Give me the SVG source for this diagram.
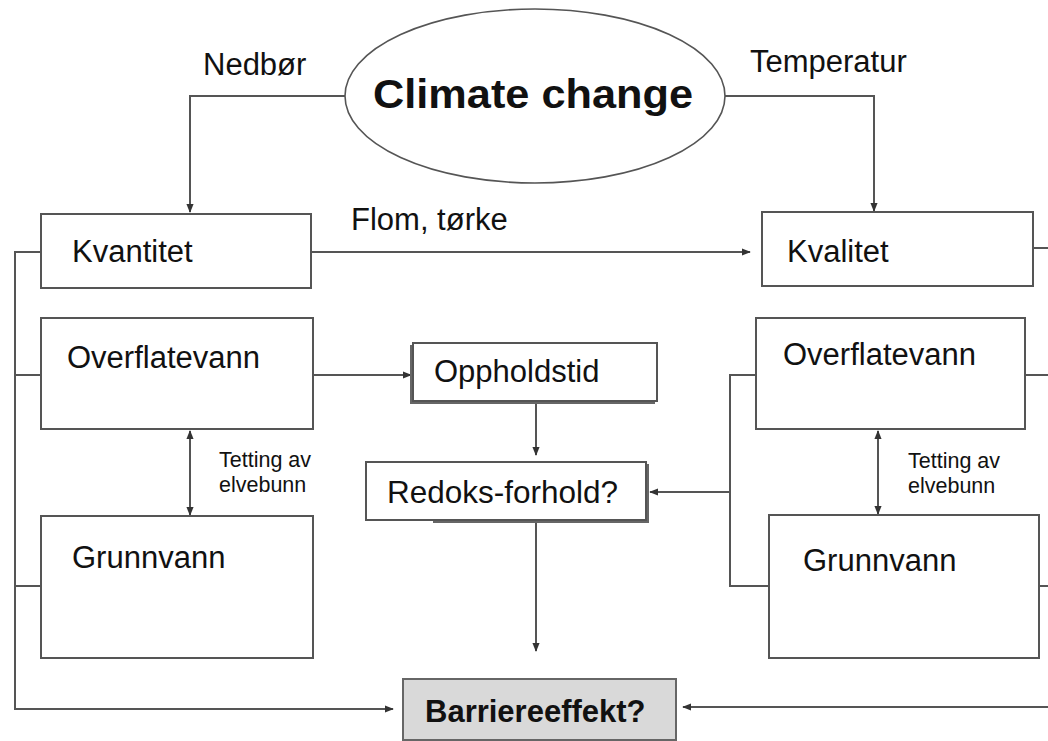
<svg xmlns="http://www.w3.org/2000/svg" width="1048" height="741" viewBox="0 0 1048 741">
<defs>
<marker id="ah" viewBox="0 0 10 10" refX="9" refY="5" markerWidth="9" markerHeight="9" markerUnits="userSpaceOnUse" orient="auto-start-reverse">
<path d="M0,1 L10,5 L0,9 z" fill="#333"/>
</marker>
<style>
.box{fill:#fff;stroke:#555;stroke-width:2}
.shadow{fill:none;stroke:#666;stroke-width:2}
.ln{fill:none;stroke:#555;stroke-width:2}
.t{font-family:"Liberation Sans",Arial,sans-serif;fill:#111}
.big{font-size:31px}
.small{font-size:21.5px}
</style>
</defs>
<rect width="1048" height="741" fill="#fff"/>

<g id="connectors">
<!-- Nedbør -->
<path class="ln" d="M345,96 H190 V212" marker-end="url(#ah)"/>
<!-- Temperatur -->
<path class="ln" d="M725,96 H874 V211" marker-end="url(#ah)"/>
<!-- Flom, tørke -->
<path class="ln" d="M311,252 H750" marker-end="url(#ah)"/>
<path d="M304,254 L302,266" stroke="#333" stroke-width="2"/>
<!-- left frame -->
<path class="ln" d="M41,252 H15 V709 H393" marker-end="url(#ah)"/>
<path class="ln" d="M15,375 H41"/>
<path class="ln" d="M15,586 H41"/>
<!-- Overflatevann -> Oppholdstid -->
<path class="ln" d="M313,375 H411" marker-end="url(#ah)"/>
<!-- Oppholdstid -> Redoks -->
<path class="ln" d="M536,403 V455" marker-end="url(#ah)"/>
<!-- Redoks -> Barriere -->
<path class="ln" d="M536,522 V651" marker-end="url(#ah)"/>
<!-- left double arrow -->
<path class="ln" d="M190,431 V515" marker-start="url(#ah)" marker-end="url(#ah)"/>
<!-- right double arrow -->
<path class="ln" d="M878,431 V514" marker-start="url(#ah)" marker-end="url(#ah)"/>
<!-- right bracket to Redoks -->
<path class="ln" d="M756,375 H730 V586 H769"/>
<path class="ln" d="M730,492 H650" marker-end="url(#ah)"/>
<!-- right edge stubs -->
<path class="ln" d="M1033,248 H1048"/>
<path class="ln" d="M1025,375 H1048"/>
<path class="ln" d="M1039,586 H1048"/>
<path class="ln" d="M1048,707 H683" marker-end="url(#ah)"/>
</g>

<g id="climate">
<ellipse cx="535" cy="96" rx="190" ry="87" fill="#fff" stroke="#555" stroke-width="1.6"/>
<text class="t" x="373" y="108" font-size="41" font-weight="bold" textLength="320" lengthAdjust="spacingAndGlyphs">Climate change</text>
</g>

<g id="labels">
<text class="t big" x="203" y="75">Nedbør</text>
<text class="t big" x="750" y="72">Temperatur</text>
<text class="t big" x="351" y="230">Flom, tørke</text>
<text class="t small" x="219" y="467">Tetting av</text>
<text class="t small" x="219" y="492">elvebunn</text>
<text class="t small" x="908" y="468">Tetting av</text>
<text class="t small" x="908" y="493">elvebunn</text>
</g>

<g id="kvantitet">
<rect class="box" x="41" y="214" width="270" height="74"/>
<text class="t big" x="72" y="262">Kvantitet</text>
</g>

<g id="kvalitet">
<rect class="box" x="762" y="212" width="271" height="74"/>
<text class="t big" x="787" y="262">Kvalitet</text>
</g>

<g id="overflatevann-left">
<rect class="box" x="41" y="318" width="272" height="111"/>
<text class="t" font-size="31" x="67" y="368">Overflatevann</text>
</g>

<g id="grunnvann-left">
<rect class="box" x="41" y="516" width="272" height="142"/>
<text class="t" font-size="31" x="72" y="568">Grunnvann</text>
</g>

<g id="overflatevann-right">
<rect class="box" x="756" y="318" width="269" height="111"/>
<text class="t" font-size="31" x="783" y="365">Overflatevann</text>
</g>

<g id="grunnvann-right">
<rect class="box" x="769" y="515" width="270" height="143"/>
<text class="t" font-size="31" x="803" y="571">Grunnvann</text>
</g>

<g id="oppholdstid">
<path class="shadow" d="M411,345 V403 H655"/>
<rect class="box" x="413" y="343" width="244" height="58"/>
<text class="t" font-size="31" x="434" y="382">Oppholdstid</text>
</g>

<g id="redoks">
<path class="shadow" d="M648,464 V522 H433"/>
<rect class="box" x="366" y="462" width="280" height="58"/>
<text class="t" font-size="31.5" x="387" y="503">Redoks-forhold?</text>
</g>

<g id="barriere">
<rect x="403" y="679" width="273" height="61" fill="#d9d9d9" stroke="#666" stroke-width="2"/>
<text class="t" font-size="31" font-weight="bold" x="425" y="722">Barriereeffekt?</text>
</g>
</svg>
